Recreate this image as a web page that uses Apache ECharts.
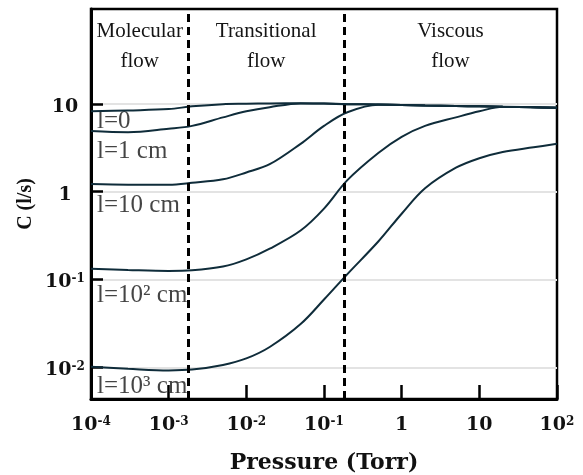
<!DOCTYPE html>
<html>
<head>
<meta charset="utf-8">
<script src="https://cdn.jsdelivr.net/npm/echarts@6/dist/echarts.min.js"></script>
<style>
  html, body { margin: 0; padding: 0; background: #fff; }
  #main { width: 583px; height: 475px; }
</style>
</head>
<body>
<div id="main"></div>
<script>
// pressure grid (Torr), shared by all curves
var pressure = [1e-4, 3e-4, 1e-3, 2e-3, 5e-3, 1e-2, 2e-2, 5e-2, 0.1, 0.2, 0.5, 1, 2, 5, 10, 20, 50, 100];
// conductance C (l/s) for each tube length
var cL0    = [8.2, 8.4, 8.7, 9.35, 9.9, 10.0, 10.1, 10.15, 10.05, 9.9, 9.8, 9.7, 9.55, 9.45, 9.35, 9.25, 9.15, 9.0];
var cL1    = [4.9, 4.75, 5.2, 5.6, 7.0, 8.2, 9.15, 10.1, 10.05, 9.9, 9.8, 9.7, 9.55, 9.45, 9.35, 9.25, 9.15, 9.0];
var cL10   = [1.22, 1.2, 1.2, 1.26, 1.38, 1.65, 2.05, 3.5, 5.6, 8.0, 9.75, 9.7, 9.55, 9.45, 9.35, 9.25, 9.15, 9.0];
var cL100  = [0.132, 0.128, 0.125, 0.127, 0.14, 0.169, 0.224, 0.36, 0.64, 1.35, 2.75, 4.2, 5.6, 7.0, 8.2, 9.25, 9.15, 9.0];
var cL1000 = [0.0101, 0.0096, 0.0092, 0.0094, 0.0106, 0.0126, 0.017, 0.031, 0.059, 0.115, 0.27, 0.56, 1.09, 1.87, 2.4, 2.83, 3.2, 3.5];

var curveNames = ['l=0', 'l=1 cm', 'l=10 cm', 'l=10² cm', 'l=10³ cm'];
var curveLabelC = [6.3, 2.9, 0.70, 0.065, 0.006];   // where each name sits at the left edge

var regionNames = ['Molecular\nflow', 'Transitional\nflow', 'Viscous\nflow'];
var regionBounds = [1e-4, 1.8e-3, 0.18, 100];       // dashed lines at the inner two

var xTicks = [1e-4, 1e-3, 1e-2, 1e-1, 1, 10, 100];
var yTicks = [0.01, 0.1, 1, 10];

var curves = [cL0, cL1, cL10, cL100, cL1000];

function powLabel(v) {
  var e = Math.round(Math.log10(v));
  if (e === 0) return '{b|1}';
  if (e === 1) return '{b|10}';
  return '{b|10}{s|' + e + '}';
}

var boldSerif = 'DejaVu Serif';
var richPow = {
  b: { fontFamily: boldSerif, fontWeight: 'bold', fontSize: 19, color: '#111' },
  s: { fontFamily: boldSerif, fontWeight: 'bold', fontSize: 12, color: '#111', verticalAlign: 'top' }
};

var myChart = echarts.init(document.getElementById('main'));

var series = curves.map(function (c, i) {
  return {
    type: 'line',
    name: curveNames[i],
    data: pressure.map(function (p, j) { return [p, c[j]]; }),
    smooth: 0.35,
    symbol: 'none',
    silent: true,
    lineStyle: { color: '#0f2c3a', width: 2 },
    z: 3
  };
});

// curve names, region names and the two dashed boundaries
series.push({
  type: 'scatter',
  symbolSize: 0,
  silent: true,
  data: curveNames.map(function (n, i) { return [1e-4, curveLabelC[i], n]; }),
  label: {
    show: true,
    position: 'right',
    distance: 6,
    formatter: function (p) { return p.data[2]; },
    fontFamily: 'Liberation Serif',
    fontSize: 25,
    color: '#151515'
  },
  markLine: {
    silent: true,
    precision: 8,
    symbol: ['none', 'none'],
    label: { show: false },
    lineStyle: { color: '#000', type: [8, 5], width: 3 },
    data: [{ xAxis: regionBounds[1] }, { xAxis: regionBounds[2] }],
    z: 5
  },
  markArea: {
    silent: true,
    itemStyle: { color: 'rgba(0,0,0,0)' },
    label: {
      show: true,
      position: 'inside',
      fontFamily: 'Liberation Serif',
      fontSize: 21,
      lineHeight: 30,
      color: '#151515'
    },
    data: regionNames.map(function (n, i) {
      return [{ name: n, xAxis: regionBounds[i], yAxis: 20 }, { xAxis: regionBounds[i + 1], yAxis: 100 }];
    })
  }
});

var option = {
  animation: false,
  backgroundColor: '#fff',
  grid: {
    left: 91, right: 26, top: 9, bottom: 76,
    show: true, borderColor: '#000', borderWidth: 2.5,
    outerBoundsMode: 'none'
  },
  xAxis: {
    type: 'log',
    logBase: 10,
    min: 1e-4,
    max: 100,
    name: 'Pressure (Torr)',
    nameLocation: 'middle',
    nameGap: 53,
    nameMoveOverlap: false,
    nameTextStyle: { fontFamily: boldSerif, fontWeight: 'bold', fontSize: 22, color: '#111' },
    axisLine: { show: true, lineStyle: { color: '#000', width: 3 } },
    axisTick: { show: true, inside: true, length: 14, lineStyle: { color: '#000', width: 2.5 }, customValues: xTicks },
    axisLabel: { margin: 17, formatter: powLabel, rich: richPow, customValues: xTicks },
    splitLine: { show: false }
  },
  yAxis: {
    type: 'log',
    logBase: 10,
    min: 0.00435,
    max: 120,
    name: 'C (l/s)',
    nameLocation: 'middle',
    nameGap: 55,
    nameRotate: 90,
    nameMoveOverlap: false,
    nameTextStyle: { fontFamily: 'Liberation Serif', fontWeight: 'bold', fontSize: 20, color: '#111' },
    axisLine: { show: true, lineStyle: { color: '#000', width: 3 } },
    axisTick: { show: true, inside: true, length: 12, lineStyle: { color: '#000', width: 2.5 }, customValues: yTicks },
    axisLabel: { margin: 26, align: 'center', padding: [6, 0, 0, 0], formatter: powLabel, rich: richPow, customValues: yTicks },
    splitLine: { show: true, lineStyle: { color: '#e3e3e3', width: 2 } }
  },
  series: series
};

myChart.setOption(option);
</script>
</body>
</html>
